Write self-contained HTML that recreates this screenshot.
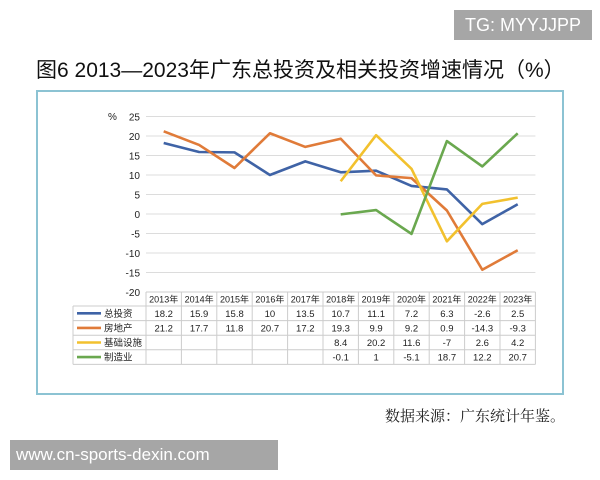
<!DOCTYPE html>
<html><head><meta charset="utf-8"><style>
body{margin:0;width:600px;height:480px;background:#fff;overflow:hidden;font-family:"Liberation Sans","Noto Sans CJK SC",sans-serif;position:relative}
.abs{position:absolute}
</style></head><body>
<div class="abs" style="left:454px;top:10px;width:138px;height:30px;background:#a6a6a6;color:#fff;font-size:18px;line-height:30px;text-align:center">TG: MYYJJPP</div>
<div class="abs" style="left:36px;top:54px;width:540px;font-size:21px;color:#111;white-space:nowrap">图6 2013—2023年广东总投资及相关投资增速情况（%）</div>
<div class="abs" style="left:36px;top:90px;width:528px;height:305px;border:2px solid #8cc3d3;box-sizing:border-box"></div>
<svg class="abs" style="left:0;top:0" width="600" height="480" id="svg"></svg>
<div class="abs" style="left:360px;top:405px;width:205px;text-align:right;font-family:'Liberation Serif','Noto Serif CJK SC',serif;font-size:15px;color:#222">数据来源：广东统计年鉴。</div>
<div class="abs" style="left:10px;top:440px;width:268px;height:30px;background:#a6a6a6;color:#fff;font-size:17px;line-height:30px;padding-left:6px;box-sizing:border-box">www.cn-sports-dexin.com</div>
<script>
const years=["2013年","2014年","2015年","2016年","2017年","2018年","2019年","2020年","2021年","2022年","2023年"];
const seriesNames=["总投资","房地产","基础设施","制造业"];
const total=[18.2,15.9,15.8,10,13.5,10.7,11.1,7.2,6.3,-2.6,2.5];
const realEstate=[21.2,17.7,11.8,20.7,17.2,19.3,9.9,9.2,0.9,-14.3,-9.3];
const infra=[null,null,null,null,null,8.4,20.2,11.6,-7,2.6,4.2];
const manuf=[null,null,null,null,null,-0.1,1,-5.1,18.7,12.2,20.7];
const yTicks=[25,20,15,10,5,0,-5,-10,-15,-20];
const colors=["#3f63a6","#e07b39","#f2c12e","#6aa84f"];
const series=[total,realEstate,infra,manuf];
const svg=document.getElementById('svg');
const NS="http://www.w3.org/2000/svg";
const x0=146,colW=35.4,yZero=214,yS=3.9;
const xPos=i=>x0+colW*(i+0.5);
const yPos=v=>yZero-v*yS;
function mk(t,a){const e=document.createElementNS(NS,t);for(const k in a)e.setAttribute(k,a[k]);svg.appendChild(e);return e;}
yTicks.forEach(v=>{
  const g=mk('line',{x1:x0,x2:x0+colW*11,y1:yPos(v),y2:yPos(v),stroke:'#dcdcdc','stroke-width':1});
  
  
  const t=mk('text',{x:140,y:yPos(v)+4,'text-anchor':'end','font-size':10,fill:'#222'});
  t.textContent=v;
  
  
});
const pct=mk('text',{x:108,y:120,'font-size':10,fill:'#222'});pct.textContent='%';


series.forEach((s,si)=>{
  let d='';s.forEach((v,i)=>{if(v===null)return;d+=(d?'L':'M')+xPos(i)+','+yPos(v);});
  const p=mk('path',{d:d,fill:'none',stroke:colors[si],'stroke-width':2.6,'stroke-linejoin':'round'});
  
  
});
const hTop=292,hH=14,rH=14.6,tLeft=73,tRight=x0+colW*11;
const tb=hTop+hH+rH*4;
mk('line',{x1:x0,x2:tRight,y1:hTop,y2:hTop,stroke:'#ccc'});
mk('line',{x1:tLeft,x2:tRight,y1:hTop+hH,y2:hTop+hH,stroke:'#ccc'});
for(let r=1;r<=4;r++)mk('line',{x1:tLeft,x2:tRight,y1:hTop+hH+rH*r,y2:hTop+hH+rH*r,stroke:'#ccc'});
mk('line',{x1:tLeft,x2:tLeft,y1:hTop+hH,y2:tb,stroke:'#ccc'});
for(let i=0;i<=11;i++)mk('line',{x1:x0+colW*i,x2:x0+colW*i,y1:hTop,y2:tb,stroke:'#ccc'});
years.forEach((y,i)=>{const t=mk('text',{x:xPos(i),y:hTop+10.5,'text-anchor':'middle','font-size':9,fill:'#222'});t.textContent=y;
  
  });
series.forEach((s,si)=>{
  const cy=hTop+hH+rH*si+rH/2;
  mk('line',{x1:77,x2:101,y1:cy,y2:cy,stroke:colors[si],'stroke-width':2.6});
  const l=mk('text',{x:104,y:cy+3.5,'font-size':9.5,fill:'#222'});l.textContent=seriesNames[si];
  
  
  s.forEach((v,i)=>{if(v===null)return;const t=mk('text',{x:xPos(i),y:cy+3.5,'text-anchor':'middle','font-size':9.5,fill:'#222'});t.textContent=v;
    
    });
});
</script>
</body></html>
